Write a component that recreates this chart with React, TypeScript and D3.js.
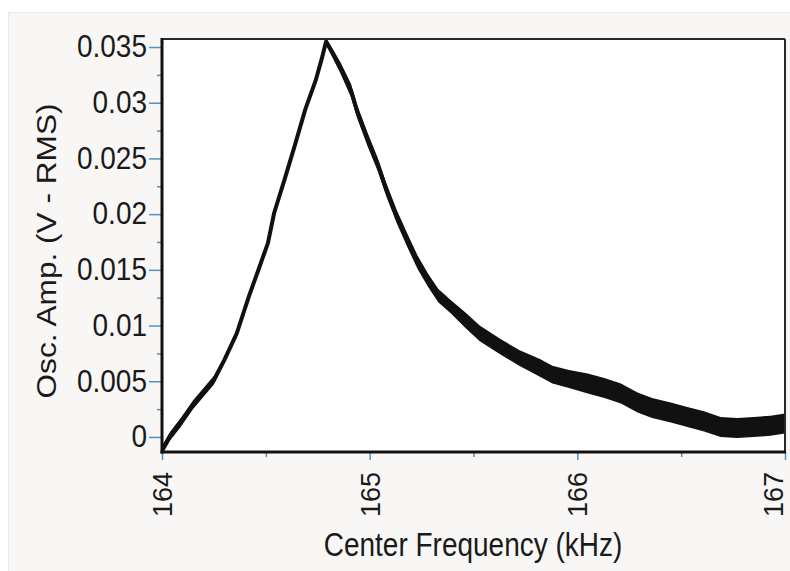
import React, { useEffect, useRef } from "react";
import * as d3 from "d3";

// values (kHz, V-RMS); spread = half thickness of the noisy trace
const freq = [
  164.0, 164.04, 164.09, 164.15, 164.25, 164.3, 164.36, 164.42, 164.47, 164.51,
  164.54, 164.59, 164.64, 164.69, 164.74, 164.77, 164.79, 164.82, 164.86, 164.91,
  164.94, 164.99, 165.04, 165.08, 165.13, 165.18, 165.23, 165.28, 165.33, 165.39,
  165.46, 165.53, 165.63, 165.72, 165.82, 165.88, 165.96, 166.05, 166.13, 166.21,
  166.29, 166.36, 166.45, 166.53, 166.61, 166.69, 166.77, 166.85, 166.93, 167.0,
];
const amp = [
  -0.0012, 0.0001, 0.0013, 0.0029, 0.0051, 0.0069, 0.0093, 0.0127, 0.0153, 0.0174,
  0.0201, 0.0231, 0.0262, 0.0294, 0.032, 0.034, 0.0355, 0.0345, 0.0331, 0.0311,
  0.0292, 0.0267, 0.0244, 0.0222, 0.0198, 0.0177, 0.0157, 0.0141, 0.0127, 0.0117,
  0.0105, 0.0093, 0.0081, 0.0071, 0.0062, 0.0056, 0.0052, 0.0048, 0.0044, 0.0039,
  0.0031, 0.0026, 0.0022, 0.0018, 0.0014, 0.0009, 0.0008, 0.0009, 0.001, 0.0012,
];
const spread = [
  0.0004, 0.0004, 0.0004, 0.0004, 0.0004, 0.0003, 0.0003, 0.0002, 0.0002, 0.0002,
  0.0002, 0.0002, 0.0002, 0.0002, 0.00025, 0.0003, 0.0003, 0.0004, 0.0005, 0.0006,
  0.0006, 0.0006, 0.0006, 0.0006, 0.0006, 0.0006, 0.0006, 0.0006, 0.0006, 0.0006,
  0.0007, 0.0007, 0.0007, 0.0007, 0.0008, 0.0008, 0.0008, 0.0009, 0.0009, 0.0009,
  0.0009, 0.0009, 0.0009, 0.0009, 0.0009, 0.0009, 0.0009, 0.0009, 0.0009, 0.0009,
];

const xTicks = [164, 165, 166, 167];
const xTickLabels = ["164", "165", "166", "167"];
const xMinorTicks = [164.5, 165.5, 166.5];
const yTicks = [0, 0.005, 0.01, 0.015, 0.02, 0.025, 0.03, 0.035];
const yTickLabels = ["0", "0.005", "0.01", "0.015", "0.02", "0.025", "0.03", "0.035"];
const yMinorTicks = [0.0025, 0.0075, 0.0125, 0.0175, 0.0225, 0.0275, 0.0325];

const W = 790;
const H = 571;
const plot = { left: 162, right: 785, top: 39, bottom: 452 };
const font = "'Liberation Sans', Arial, sans-serif";
const tickColor = "#4f93c4";

export default function App() {
  const ref = useRef<SVGSVGElement>(null);

  useEffect(() => {
    const svg = d3.select(ref.current);
    svg.selectAll("*").remove();

    const x = d3.scaleLinear().domain([164, 167]).range([plot.left, plot.right]);
    const y = d3.scaleLinear().domain([-0.00135, 0.03572]).range([plot.bottom, plot.top]);

    // panel background
    svg.append("rect").attr("width", W).attr("height", H).attr("fill", "#ffffff");
    svg
      .append("rect")
      .attr("x", 8.5)
      .attr("y", 12.5)
      .attr("width", W)
      .attr("height", H)
      .attr("fill", "#f9f7f5")
      .attr("stroke", "#ebe9e7");
    svg
      .append("rect")
      .attr("x", plot.left)
      .attr("y", plot.top)
      .attr("width", plot.right - plot.left)
      .attr("height", plot.bottom - plot.top)
      .attr("fill", "#ffffff");

    svg
      .append("clipPath")
      .attr("id", "plotclip")
      .append("rect")
      .attr("x", plot.left)
      .attr("y", plot.top)
      .attr("width", plot.right - plot.left)
      .attr("height", plot.bottom - plot.top);

    const pts = freq.map((f, i) => ({ f, a: amp[i], s: spread[i] }));

    const band = d3
      .area<{ f: number; a: number; s: number }>()
      .x((d) => x(d.f))
      .y0((d) => y(d.a - d.s))
      .y1((d) => y(d.a + d.s));
    const line = d3
      .line<{ f: number; a: number; s: number }>()
      .x((d) => x(d.f))
      .y((d) => y(d.a));

    const g = svg.append("g").attr("clip-path", "url(#plotclip)");
    g.append("path").attr("d", band(pts)).attr("fill", "#111");
    g.append("path")
      .attr("d", line(pts))
      .attr("fill", "none")
      .attr("stroke", "#111")
      .attr("stroke-width", 4)
      .attr("stroke-linejoin", "round");

    // y axis
    const yAxis = svg
      .append("g")
      .attr("transform", `translate(${plot.left - 1},0)`)
      .call(
        d3
          .axisLeft(y)
          .tickValues(yTicks)
          .tickSize(12)
          .tickPadding(2)
          .tickFormat((d, i) => yTickLabels[i])
      );
    yAxis.select(".domain").remove();
    yAxis.selectAll(".tick line").attr("stroke", tickColor).attr("stroke-width", 1.5);
    yAxis
      .selectAll(".tick text")
      .attr("font-family", font)
      .attr("font-size", 28)
      .attr("fill", "#1a1a1a")
      .attr("transform", "scale(1,1.1)");

    svg
      .append("g")
      .attr("transform", `translate(${plot.left - 1},0)`)
      .call(d3.axisLeft(y).tickValues(yMinorTicks).tickSize(4).tickFormat(() => ""))
      .call((a) => a.select(".domain").remove())
      .selectAll(".tick line")
      .attr("stroke", tickColor)
      .attr("stroke-width", 1.5);

    // x axis
    const xAxis = svg
      .append("g")
      .attr("transform", `translate(0,${plot.bottom})`)
      .call(
        d3
          .axisBottom(x)
          .tickValues(xTicks)
          .tickSize(8)
          .tickFormat((d, i) => xTickLabels[i])
      );
    xAxis.select(".domain").remove();
    xAxis.selectAll(".tick line").attr("stroke", tickColor).attr("stroke-width", 1.5);
    xAxis
      .selectAll<SVGTextElement, number>(".tick text")
      .attr("font-family", font)
      .attr("font-size", 27)
      .attr("fill", "#1a1a1a")
      // the last label sits at the very edge; nudge it inward so it stays readable
      .attr("transform", (d) => (d === 167 ? "translate(-12,0) rotate(-90)" : "rotate(-90)"))
      .attr("text-anchor", "end")
      .attr("x", -20)
      .attr("y", 0)
      .attr("dy", "0.35em");

    svg
      .append("g")
      .attr("transform", `translate(0,${plot.bottom})`)
      .call(d3.axisBottom(x).tickValues(xMinorTicks).tickSize(5).tickFormat(() => ""))
      .call((a) => a.select(".domain").remove())
      .selectAll(".tick line")
      .attr("stroke", tickColor)
      .attr("stroke-width", 1.5);

    // frame
    svg
      .append("line")
      .attr("x1", plot.left)
      .attr("x2", plot.right)
      .attr("y1", plot.top)
      .attr("y2", plot.top)
      .attr("stroke", "#2a2a2a")
      .attr("stroke-width", 2);
    svg
      .append("line")
      .attr("x1", plot.right)
      .attr("x2", plot.right)
      .attr("y1", plot.top)
      .attr("y2", plot.bottom)
      .attr("stroke", "#2a2a2a")
      .attr("stroke-width", 2);
    svg
      .append("line")
      .attr("x1", plot.left)
      .attr("x2", plot.left)
      .attr("y1", plot.top - 1)
      .attr("y2", plot.bottom + 1.5)
      .attr("stroke", "#111")
      .attr("stroke-width", 3);
    svg
      .append("line")
      .attr("x1", plot.left - 1.5)
      .attr("x2", plot.right + 1)
      .attr("y1", plot.bottom)
      .attr("y2", plot.bottom)
      .attr("stroke", "#111")
      .attr("stroke-width", 3);

    // titles
    svg
      .append("text")
      .attr("transform", "translate(473,556) scale(1,1.18)")
      .attr("text-anchor", "middle")
      .attr("font-family", font)
      .attr("font-size", 28)
      .attr("fill", "#1a1a1a")
      .text("Center Frequency (kHz)");
    svg
      .append("text")
      .attr("transform", "translate(56,251) rotate(-90)")
      .attr("text-anchor", "middle")
      .attr("font-family", font)
      .attr("font-size", 28)
      .attr("fill", "#1a1a1a")
      .attr("textLength", 295)
      .attr("lengthAdjust", "spacingAndGlyphs")
      .text("Osc. Amp. (V - RMS)");
  }, []);

  return (
    <svg
      ref={ref}
      width={W}
      height={H}
      style={{ position: "absolute", left: 0, top: 0, display: "block" }}
    />
  );
}
